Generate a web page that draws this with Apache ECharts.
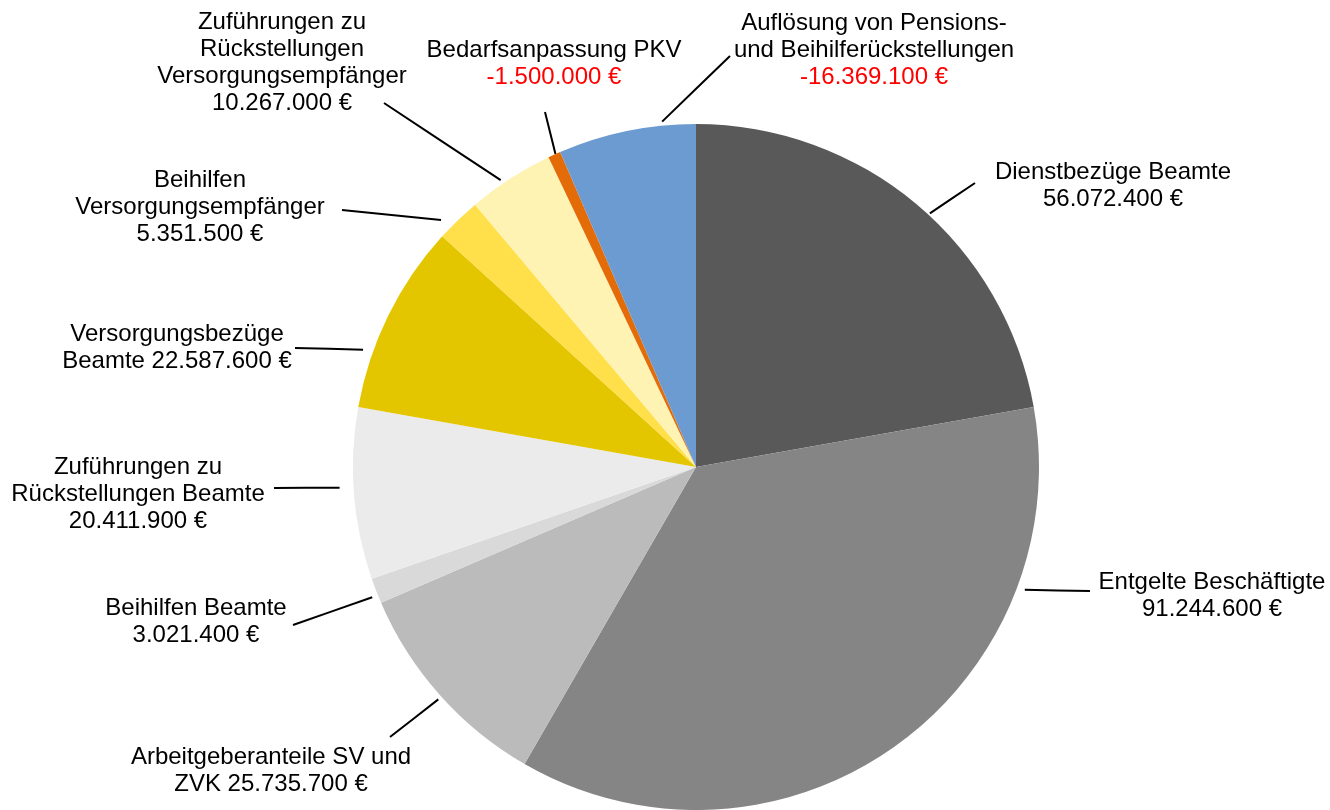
<!DOCTYPE html>
<html>
<head>
<meta charset="utf-8">
<script src="https://cdn.jsdelivr.net/npm/echarts@6/dist/echarts.min.js"></script>
<style>
html,body{margin:0;padding:0;background:#fff;}
#chart{width:1330px;height:810px;}
</style>
</head>
<body>
<div id="chart"></div>
<script>
// ---- data ----
var categories = [
  'Dienstbezüge Beamte',
  'Entgelte Beschäftigte',
  'Arbeitgeberanteile SV und\nZVK',
  'Beihilfen Beamte',
  'Zuführungen zu\nRückstellungen Beamte',
  'Versorgungsbezüge\nBeamte',
  'Beihilfen\nVersorgungsempfänger',
  'Zuführungen zu\nRückstellungen\nVersorgungsempfänger',
  'Bedarfsanpassung PKV',
  'Auflösung von Pensions-\nund Beihilferückstellungen'
];
var values = [56072400, 91244600, 25735700, 3021400, 20411900, 22587600, 5351500, 10267000, -1500000, -16369100];

// ---- styles / layout ----
var colors = ['#595959', '#858585', '#bbbbbb', '#d9d9d9', '#ebebeb', '#e4c600', '#ffe04b', '#fff3b3', '#e36c09', '#6b9bd1'];
var valueInline = [false, false, true, false, false, true, false, false, false, false];
var PIE_CENTER = [696, 467];
var PIE_R = 343;
var FONT = 'Liberation Sans, Arial, sans-serif';
var FS = 24;
var LH = 27;
// label block centres
var labelPos = [[1113, 186], [1212, 596], [271, 771], [196, 622], [138, 494], [177, 348], [200, 207], [282, 63], [554, 64], [874, 50]];
// outer end of each leader line
var lineOuter = [[975, 183], [1090, 591], [390, 737], [293, 625], [274, 488], [295, 348], [342, 210], [384, 103], [545, 112], [730, 56]];
// where the leader line meets the slice: fraction of slice span, and gap outside the rim
var lineAt = [0.534, 0.235, 0.49, 0.33, 0.54, 0.29, 0.24, 0.40, 0.6, 0.76];
var lineGap = [2, 8, 4, 6, 14, 10, 12, 4, 0, 4];

function fmt(v) {
  var s = Math.abs(v).toString().replace(/\B(?=(\d{3})+(?!\d))/g, '.');
  return (v < 0 ? '-' : '') + s + ' €';
}

var absVals = values.map(function (v) { return Math.abs(v); });
var total = absVals.reduce(function (a, b) { return a + b; }, 0);
var cum = [];
(function () { var c = 0; for (var i = 0; i < absVals.length; i++) { cum.push(c); c += absVals[i]; } })();

function innerPoint(i) {
  var a0 = cum[i] / total * 2 * Math.PI;
  var span = absVals[i] / total * 2 * Math.PI;
  var th = a0 + span * lineAt[i];
  var r = PIE_R + lineGap[i];
  return [PIE_CENTER[0] + r * Math.sin(th), PIE_CENTER[1] - r * Math.cos(th)];
}

var data = categories.map(function (c, i) {
  return { name: c, value: absVals[i], raw: values[i], itemStyle: { color: colors[i] } };
});

function tok(color) {
  return { fontFamily: FONT, fontSize: FS, lineHeight: LH, color: color, align: 'center' };
}

var chart = echarts.init(document.getElementById('chart'), null, { renderer: 'canvas' });
chart.setOption({
  backgroundColor: '#ffffff',
  animation: false,
  series: [{
    type: 'pie',
    center: PIE_CENTER,
    radius: PIE_R,
    startAngle: 90,
    clockwise: true,
    avoidLabelOverlap: false,
    data: data,
    itemStyle: { borderWidth: 0 },
    emphasis: { disabled: true },
    label: {
      show: true,
      position: 'outside',
      align: 'center',
      fontFamily: FONT,
      fontSize: FS,
      lineHeight: LH,
      color: '#000',
      formatter: function (p) {
        var i = p.dataIndex;
        var lines = categories[i].split('\n');
        var vTok = '{' + (values[i] < 0 ? 'r' : 'v') + '|' + fmt(values[i]) + '}';
        var out = lines.map(function (l) { return '{n|' + l + '}'; });
        if (valueInline[i]) {
          out[out.length - 1] += '{n| }' + vTok;
        } else {
          out.push(vTok);
        }
        return out.join('\n');
      },
      rich: { n: tok('#000'), v: tok('#000'), r: tok('#ff0000') }
    },
    labelLine: {
      show: true,
      length: 20,
      length2: 10,
      lineStyle: { color: '#000', width: 2 }
    },
    labelLayout: function (p) {
      var i = p.dataIndex;
      var a = innerPoint(i);
      var b = lineOuter[i];
      return {
        x: labelPos[i][0],
        y: labelPos[i][1],
        align: 'center',
        verticalAlign: 'middle',
        labelLinePoints: [a, [(a[0] + b[0]) / 2, (a[1] + b[1]) / 2], b]
      };
    }
  }]
});
</script>
</body>
</html>
